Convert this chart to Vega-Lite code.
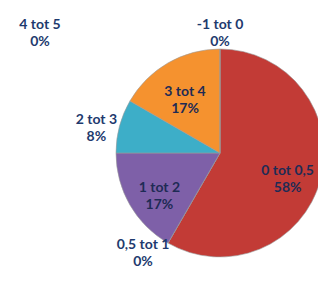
{
  "$schema": "https://vega.github.io/schema/vega-lite/v6.json",
  "width": 196,
  "height": 212,
  "autosize": {"type": "none"},
  "padding": {"left": 122, "top": 47, "right": 0, "bottom": 23},
  "background": "white",
  "data": {
    "values": [
      {"cat": "-1 tot 0", "value": 0, "pct": "0%", "order": 1},
      {"cat": "0 tot 0,5", "value": 7, "pct": "58%", "order": 2},
      {"cat": "0,5 tot 1", "value": 0, "pct": "0%", "order": 3},
      {"cat": "1 tot 2", "value": 2, "pct": "17%", "order": 4},
      {"cat": "2 tot 3", "value": 1, "pct": "8%", "order": 5},
      {"cat": "3 tot 4", "value": 2, "pct": "17%", "order": 6},
      {"cat": "4 tot 5", "value": 0, "pct": "0%", "order": 7}
    ]
  },
  "transform": [{"calculate": "[datum.cat, datum.pct]", "as": "label"}],
  "encoding": {
    "theta": {"field": "value", "type": "quantitative", "stack": true},
    "order": {"field": "order", "type": "quantitative"}
  },
  "layer": [
    {
      "mark": {"type": "arc", "outerRadius": 104, "stroke": "#9a9a9a", "strokeWidth": 0.6},
      "encoding": {
        "color": {
          "field": "cat",
          "type": "nominal",
          "scale": {
            "domain": ["-1 tot 0", "0 tot 0,5", "0,5 tot 1", "1 tot 2", "2 tot 3", "3 tot 4", "4 tot 5"],
            "range": ["#4F81BD", "#C23B36", "#9BBB59", "#7E60A8", "#3DAEC8", "#F5922F", "#2C4D75"]
          },
          "legend": null
        }
      }
    },
    {
      "mark": {"type": "text", "radius": 70, "font": "Lato", "fontWeight": "bold", "fontSize": 14, "lineHeight": 17, "color": "#1E2B55"},
      "encoding": {
        "text": {"field": "label"},
        "opacity": {"condition": {"test": "indexof(['0 tot 0,5','1 tot 2','3 tot 4'], datum.cat) >= 0", "value": 1}, "value": 0}
      }
    },
    {
      "mark": {"type": "text", "radius": 128, "font": "Lato", "fontWeight": "bold", "fontSize": 14, "lineHeight": 17, "color": "#1E3A6E"},
      "encoding": {
        "text": {"field": "label"},
        "opacity": {"condition": {"test": "indexof(['-1 tot 0','2 tot 3'], datum.cat) >= 0", "value": 1}, "value": 0}
      }
    },
    {
      "mark": {"type": "text", "radius": 118, "dx": -18, "dy": -10, "font": "Lato", "fontWeight": "bold", "fontSize": 14, "lineHeight": 17, "color": "#1E3A6E"},
      "encoding": {
        "text": {"field": "label"},
        "opacity": {"condition": {"test": "datum.cat == '0,5 tot 1'", "value": 1}, "value": 0}
      }
    },
    {
      "mark": {"type": "text", "radius": 128, "dx": -180, "dy": 0, "font": "Lato", "fontWeight": "bold", "fontSize": 14, "lineHeight": 17, "color": "#1E3A6E"},
      "encoding": {
        "text": {"field": "label"},
        "opacity": {"condition": {"test": "datum.cat == '4 tot 5'", "value": 1}, "value": 0}
      }
    }
  ]
}
